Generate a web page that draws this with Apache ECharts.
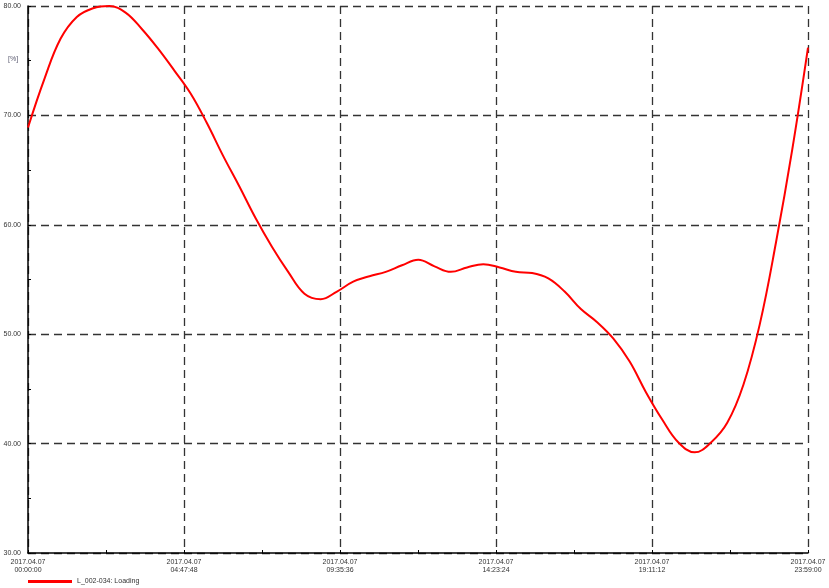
<!DOCTYPE html>
<html><head><meta charset="utf-8">
<script src="https://cdn.jsdelivr.net/npm/echarts@6/dist/echarts.min.js"></script>
<style>html,body{margin:0;padding:0;background:#fff}#c{width:829px;height:588px}</style>
</head><body><div id="c"></div>
<script>
// Time in minutes from 2017.04.07 00:00:00
const timesMin = [0,30,60,90,120,150,180,210,240,270,300,330,360,390,420,450,480,510,540,570,600,630,660,690,720,750,780,810,840,870,900,930,960,990,1020,1050,1080,1110,1140,1170,1200,1230,1260,1290,1320,1350,1380,1410,1439];
const loading = [68.9,73.3,77.0,79.0,79.8,80.0,79.4,77.9,76.1,74.1,72.0,69.3,66.3,63.5,60.6,58.0,55.7,53.7,53.2,53.9,54.8,55.3,55.7,56.3,56.8,56.2,55.7,56.1,56.4,56.1,55.7,55.6,55.1,53.9,52.3,51.1,49.6,47.5,44.7,42.2,40.1,39.2,40.1,41.9,45.4,50.9,58.4,66.9,76.2];
const xTickLabels = ['2017.04.07\n00:00:00','2017.04.07\n04:47:48','2017.04.07\n09:35:36','2017.04.07\n14:23:24','2017.04.07\n19:11:12','2017.04.07\n23:59:00'];
const yTickLabels = ['30.00','40.00','50.00','60.00','70.00','80.00'];
const seriesName = 'L_002-034: Loading';
const unitLabel = '[%]';

const X_INTERVAL = 17268; // seconds
const chart = echarts.init(document.getElementById('c'));
const font = 'Liberation Sans, Arial, sans-serif';
chart.setOption({
  animation: false,
  grid: {left: 28, right: 21, top: 6, bottom: 35},
  legend: {
    left: 23, top: 573, itemWidth: 44, itemHeight: 3, itemGap: 4,
    icon: 'rect',
    textStyle: {fontSize: 7, fontFamily: font, color: '#333', padding: [0,0,0,0]},
    data: [seriesName]
  },
  graphic: [{type: 'text', left: 8, top: 56, style: {text: unitLabel, fontSize: 7, fontFamily: font, fill: '#5a5a70'}}],
  xAxis: {
    type: 'value', min: 0, max: 86340, interval: X_INTERVAL,
    axisLine: {lineStyle: {color: '#000', width: 1.5}},
    axisTick: {show: true, inside: true, length: 3, lineStyle: {color: '#000'}},
    minorTick: {show: true, splitNumber: 2, length: 3, lineStyle: {color: '#000'}},
    splitLine: {show: true, lineStyle: {color: '#333', width: 1.3, type: [8, 5]}},
    axisLabel: {
      margin: 5, fontSize: 7, fontFamily: font, color: '#333', lineHeight: 8, showMaxLabel: true, showMinLabel: true,
      formatter: v => xTickLabels[Math.round(v / X_INTERVAL)] || ''
    }
  },
  yAxis: {
    type: 'value', min: 30, max: 80, interval: 10,
    axisLine: {show: true, lineStyle: {color: '#000', width: 1.5}},
    axisTick: {show: true, inside: true, length: 3, lineStyle: {color: '#000'}},
    minorTick: {show: true, splitNumber: 2, length: 3, lineStyle: {color: '#000'}},
    splitLine: {show: true, lineStyle: {color: '#333', width: 1.3, type: [8, 5]}},
    axisLabel: {
      margin: 7, fontSize: 7, fontFamily: font, color: '#333',
      formatter: v => yTickLabels[Math.round((v - 30) / 10)]
    }
  },
  series: [{
    name: seriesName, type: 'line', smooth: 0.4, symbol: 'none',
    lineStyle: {color: '#ff0000', width: 2}, itemStyle: {color: '#ff0000'},
    data: timesMin.map((t, i) => [t * 60, loading[i]])
  }]
});
</script></body></html>
